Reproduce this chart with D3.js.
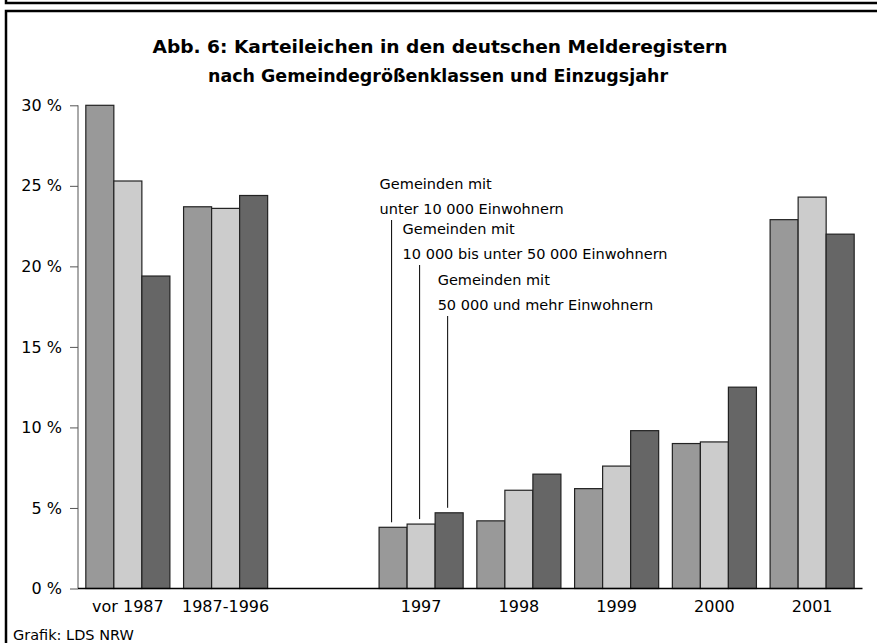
<!DOCTYPE html>
<html>
<head>
<meta charset="utf-8">
<script src="https://cdn.jsdelivr.net/npm/d3@7"></script>
<style>
  body { margin: 0; background: #fff; }
  svg { display: block; font-family: "DejaVu Sans", sans-serif; }
</style>
</head>
<body>
<div id="chart"></div>
<script>
const categories = ["vor 1987", "1987-1996", "1997", "1998", "1999", "2000", "2001"];
const seriesNames = [
    ["Gemeinden mit", "unter 10 000 Einwohnern"],
    ["Gemeinden mit", "10 000 bis unter 50 000 Einwohnern"],
    ["Gemeinden mit", "50 000 und mehr Einwohnern"]
];
const small = [30.0, 23.7, 3.8, 4.2, 6.2, 9.0, 22.9];
const medium = [25.3, 23.6, 4.0, 6.1, 7.6, 9.1, 24.3];
const large = [19.4, 24.4, 4.7, 7.1, 9.8, 12.5, 22.0];
const yTicks = [0, 5, 10, 15, 20, 25, 30];
const fills = ["#999999", "#cccccc", "#666666"];

function drawChart() {
    const width = 877, height = 643;
    const margin = { top: 105.3, bottom: 54.5, left: 78, right: 15 };

    const svg = d3.select("#chart").append("svg")
        .attr("width", width)
        .attr("height", height);

    // frames
    svg.append("path")
        .attr("d", `M6,0 V3 H${width}`)
        .attr("fill", "none").attr("stroke", "#000").attr("stroke-width", 2.5);
    svg.append("path")
        .attr("d", `M6,${height} V11 H${width}`)
        .attr("fill", "none").attr("stroke", "#000").attr("stroke-width", 2.5);

    // title
    const title = svg.append("text")
        .attr("text-anchor", "middle")
        .attr("font-weight", "bold").attr("font-size", 18.5);
    title.append("tspan").attr("x", 440).attr("y", 53)
        .attr("textLength", 575).attr("lengthAdjust", "spacingAndGlyphs")
        .text("Abb. 6: Karteileichen in den deutschen Melderegistern");
    title.append("tspan").attr("x", 438).attr("y", 82)
        .attr("textLength", 460).attr("lengthAdjust", "spacingAndGlyphs")
        .text("nach Gemeindegrößenklassen und Einzugsjahr");

    // one empty slot between 1987-1996 and 1997
    const slots = [categories[0], categories[1], "_gap", ...categories.slice(2)];
    const x = d3.scaleBand()
        .domain(slots)
        .range([margin.left, width - margin.right])
        .paddingInner(0.14)
        .paddingOuter(0.08);
    const xSub = d3.scaleBand()
        .domain([0, 1, 2])
        .range([0, x.bandwidth()]);

    const y = d3.scaleLinear()
        .domain([0, 30])
        .range([height - margin.bottom, margin.top]);

    // y axis
    const yAxis = svg.append("g")
        .attr("transform", `translate(${margin.left},0)`)
        .call(d3.axisLeft(y).tickValues(yTicks).tickSize(8).tickPadding(8)
            .tickFormat(d => d + " %"));
    yAxis.select(".domain").attr("stroke", "#555").attr("d", `M0,${y(30)}V${y(0)}`);
    yAxis.selectAll(".tick line").attr("stroke", "#555");
    yAxis.selectAll("text").attr("font-size", 16).attr("font-family", "DejaVu Sans").attr("fill", "#000");

    // bars
    const values = [small, medium, large];
    const rows = categories.map((c, i) => ({ cat: c, vals: values.map(s => s[i]) }));
    const groups = svg.selectAll(".grp")
        .data(rows)
        .enter().append("g")
        .attr("class", "grp")
        .attr("transform", d => `translate(${x(d.cat)},0)`);
    groups.selectAll("rect")
        .data(d => d.vals)
        .enter().append("rect")
        .attr("x", (d, i) => xSub(i))
        .attr("y", d => y(d))
        .attr("width", xSub.bandwidth())
        .attr("height", d => y(0) - y(d))
        .attr("fill", (d, i) => fills[i])
        .attr("stroke", "#222")
        .attr("stroke-width", 1.2);

    // x axis
    svg.append("line")
        .attr("x1", margin.left).attr("x2", width - margin.right + 0.5)
        .attr("y1", y(0)).attr("y2", y(0))
        .attr("stroke", "#000").attr("stroke-width", 1.6);
    svg.selectAll(".xlab")
        .data(categories)
        .enter().append("text")
        .attr("class", "xlab")
        .attr("x", d => x(d) + x.bandwidth() / 2)
        .attr("y", y(0) + 23)
        .attr("text-anchor", "middle")
        .attr("font-size", 16)
        .text(d => d);

    // series labels with leader lines to the 1997 bars
    const labelCat = "1997";
    const labelDx = [-12, -17, -10];
    const labelTop = [189, 234, 285];
    seriesNames.forEach((lines, i) => {
        const cx = x(labelCat) + xSub(i) + xSub.bandwidth() / 2 - 1.5;
        const t = svg.append("text").attr("font-size", 14.5);
        lines.forEach((ln, j) => {
            t.append("tspan").attr("x", cx + labelDx[i]).attr("y", labelTop[i] + j * 24.5).text(ln);
        });
        svg.append("line")
            .attr("x1", cx).attr("x2", cx)
            .attr("y1", labelTop[i] + 31)
            .attr("y2", y(values[i][categories.indexOf(labelCat)]) - 5)
            .attr("stroke", "#000").attr("stroke-width", 1);
    });

    svg.append("text")
        .attr("x", 13).attr("y", 640)
        .attr("font-size", 14.5)
        .text("Grafik: LDS NRW");
}

document.addEventListener("DOMContentLoaded", drawChart);
</script>
</body>
</html>
